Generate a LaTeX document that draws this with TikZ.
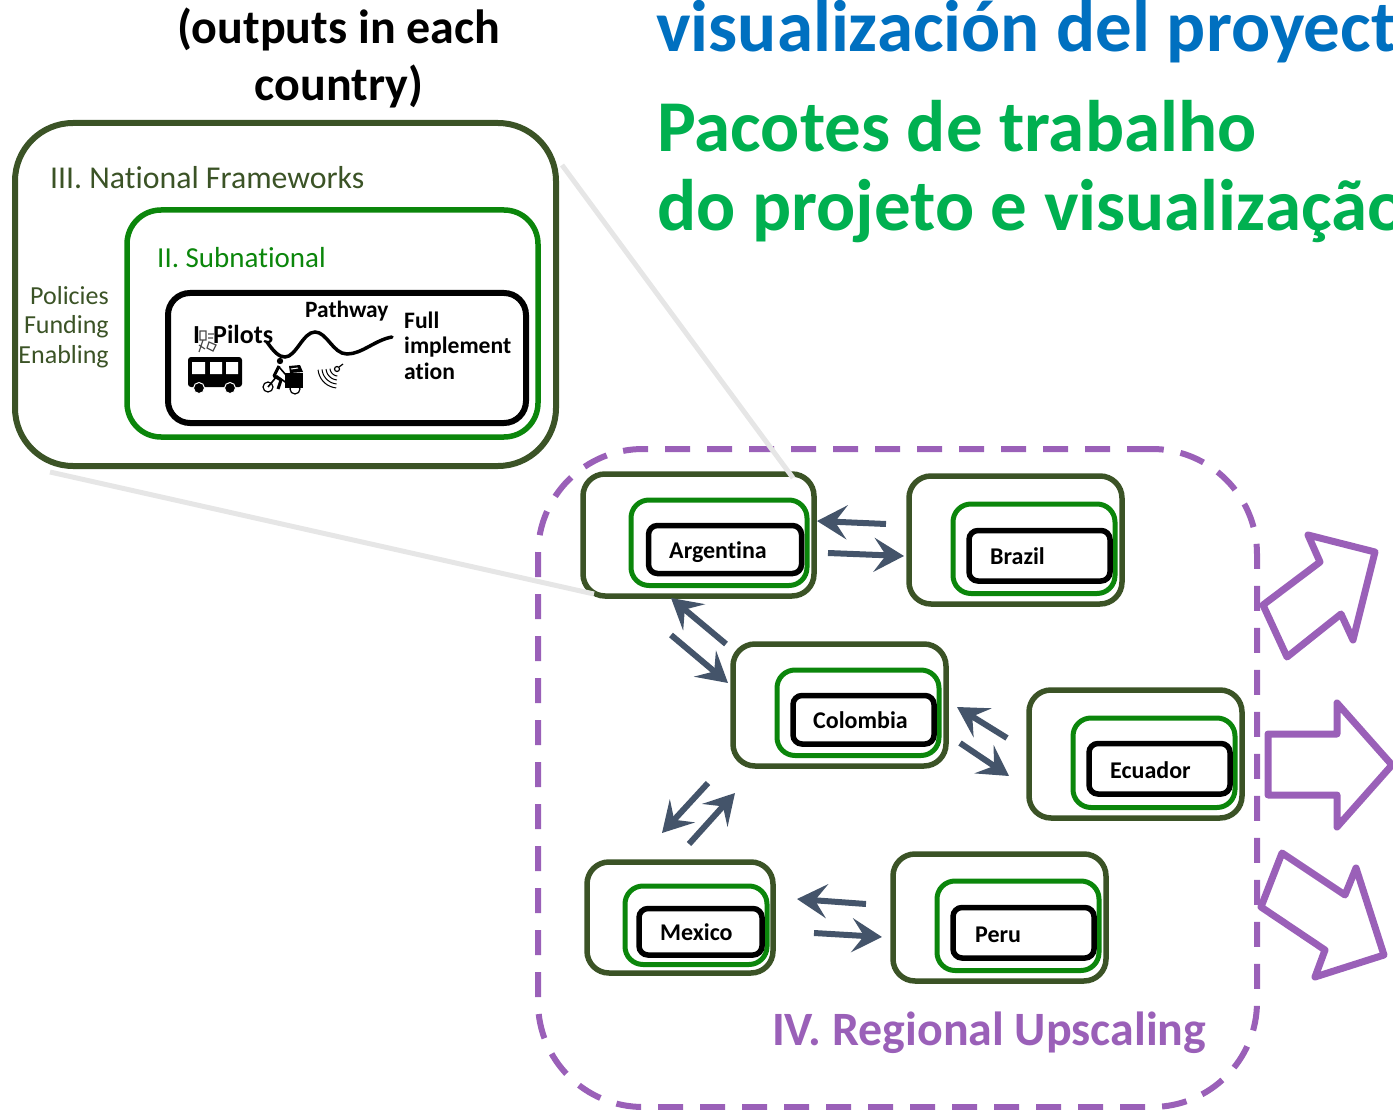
\documentclass[tikz,border=0pt]{standalone}
\usepackage{fontspec}
\setmainfont{Carlito}[Ligatures=NoCommon]
\usetikzlibrary{arrows.meta}
\definecolor{dkgreen}{HTML}{3B5326}
\definecolor{midgreen}{HTML}{0B860B}
\definecolor{purp}{HTML}{9A60B8}
\definecolor{slate}{HTML}{44546A}
\definecolor{ltgray}{HTML}{E6E6E6}
\definecolor{tblue}{HTML}{0070C0}
\definecolor{tgreen}{HTML}{00B050}
\newcommand{\fs}[1]{\fontsize{#1}{#1}\selectfont}
\newcommand{\bx}[6]{\node[#2,minimum width={(#5-#3)*1pt},minimum height={(#6-#4)*1pt}] (#1) at ({(#3+#5)/2},{(#4+#6)/2}) {};}
\tikzset{
 x=1pt,y=-1pt,
 rb/.style={draw,rectangle,inner sep=0pt,fill=none},
 outerb/.style={rb,draw=dkgreen,line width=5.5pt,rounded corners=22pt},
 greenb/.style={rb,draw=midgreen,line width=5pt,rounded corners=18pt},
 blackb/.style={rb,draw=black,line width=5.5pt,rounded corners=9pt},
 country/.style={anchor=base west,inner sep=0pt,font=\fs{24}\bfseries},
 lbl/.style={anchor=base west,inner sep=0pt},
 flow/.style={draw=slate,line width=6pt,-{Stealth[length=30pt,width=34pt,inset=12pt]}},
 bigarrow/.style={draw=purp,line width=7pt,line join=round,fill=none},
 glink/.style={draw=ltgray,line width=5pt},
}
\begin{document}
\begin{tikzpicture}
\clip (0,0) rectangle (1393,1110);
% titles
\node[anchor=base,inner sep=0pt,font=\fs{48}\bfseries] (t1) at (339,44) {(outputs in each};
\node[anchor=base,inner sep=0pt,font=\fs{48}\bfseries] (t2) at (339,101) {country)};
\node[lbl,text=tblue,font=\fs{73}\bfseries] (t3) at (656,52) {visualización del proyect};
\node[lbl,text=tgreen,font=\fs{73}\bfseries] (t4) at (657,152) {Pacotes de trabalho};
\node[lbl,text=tgreen,font=\fs{73}\bfseries] (t5) at (657,231) {do projeto e visualização};
% zoom panel
\bx{nat}{rb,draw=dkgreen,line width=6pt,rounded corners=58pt}{15}{123}{556}{466}
\bx{sub}{rb,draw=midgreen,line width=5.5pt,rounded corners=34pt}{127}{210}{538}{437}
\bx{loc}{rb,draw=black,line width=6pt,rounded corners=22pt}{168}{293}{526}{423}
\node[lbl,text=dkgreen,font=\fs{31.8}] (l3) at (50,189) {III. National Frameworks};
\node[lbl,text=midgreen,font=\fs{29}] (l2) at (157,268) {II. Subnational};
\node[anchor=base east,inner sep=0pt,text=dkgreen,font=\fs{26}] (p1) at (109,305) {Policies};
\node[anchor=base east,inner sep=0pt,text=dkgreen,font=\fs{26}] (p2) at (109,334) {Funding};
\node[anchor=base east,inner sep=0pt,text=dkgreen,font=\fs{26}] (p3) at (109,363) {Enabling};
\node[lbl,font=\fs{23.4}] (pw) at (305,317) {\textbf{Pathway}};
\node[lbl,font=\fs{23.6}] (f1) at (404,328) {\textbf{Full}};
\node[lbl,font=\fs{23.6}] (f2) at (404,353) {\textbf{implement}};
\node[lbl,font=\fs{23.6}] (f3) at (404,379) {\textbf{ation}};
\node[lbl,font=\fs{26}] (i1) at (193,343) {\textbf{I}};
\node[lbl,font=\fs{26}] (i2) at (213,343) {\textbf{Pilots}};
% small handheld icon
\draw[black!70,line width=1.2pt] (200,331) -- (206,331) -- (206,340) -- (200,340) -- cycle
  (203,340) -- (199,352) (199,345) -- (205,349) (208,334) -- (214,334) (208,338) -- (213,338) (209,342) -- (216,345) -- (213,351) -- (207,348) -- cycle;
% pathway curve
\draw[line width=3.5pt,line cap=round] (267,342) .. controls (274,352) and (279,357) .. (285,357)
  .. controls (296,357) and (303,332) .. (315,332)
  .. controls (327,332) and (333,354) .. (347,354)
  .. controls (362,354) and (375,340) .. (392,337);
% bus
\fill[rounded corners=3pt] (188,357) rectangle (242,387);
\fill[white] (192,362) rectangle (205,374) (210,362) rectangle (222,374) (226,362) rectangle (238,374);
\filldraw[draw=white,line width=1pt] (199,388) circle (5.5) (230,388) circle (5.5);
% cyclist
\draw[line width=1.2pt] (268,387) circle (5) (295,389) circle (5);
\fill (280,361) circle (3.2);
\draw[line width=3pt,line join=round] (279,366) -- (274,376) -- (281,380) -- (278,389);
\draw[line width=1.6pt] (279,367) -- (286,375) (268,387) -- (277,376) -- (288,384);
\fill (285,373) rectangle (303,388);
\fill (289,366) -- (300,365) -- (303,372) -- (290,373) -- cycle;
\draw[white,line width=1pt] (291,369) -- (298,368);
% signal
\draw[line width=1.2pt] (337,369) circle (2.5) (339,367) -- (343,364);
\foreach \r in {8,12,16,20}{\draw[line width=1pt] plot[domain=185:265,samples=10,smooth] ({338+\r*cos(\x)},{368-\r*sin(\x)});}
% regional frame
\bx{reg}{rb,draw=purp,line width=6pt,rounded corners=105pt,dash pattern=on 25pt off 17pt}{538}{449}{1257}{1107}
\node[lbl,text=purp,font=\fs{47.9}\bfseries] (l4) at (772,1045) {IV. Regional Upscaling};
% countries
\bx{ao}{outerb}{583}{474}{814}{596}\bx{ag}{greenb}{631}{500}{807}{585.5}\bx{ab}{blackb}{648.5}{525.5}{801.5}{573.5}
\bx{bo}{outerb}{909}{476}{1122}{604}\bx{bg}{greenb}{953}{504}{1115}{593.5}\bx{bb}{blackb}{969}{530.5}{1110}{581}
\bx{co}{outerb}{733}{644}{946}{766}\bx{cg}{greenb}{777}{670}{939}{755.5}\bx{cb}{blackb}{793}{695.5}{934}{744}
\bx{eo}{outerb}{1029}{690}{1242}{818}\bx{eg}{greenb}{1073}{718}{1235}{807.5}\bx{eb}{blackb}{1089}{743.5}{1230}{794}
\bx{mo}{outerb}{587}{862}{773}{973}\bx{mg}{greenb}{625}{886}{767}{964.5}\bx{mb}{blackb}{639}{908.5}{762}{955}
\bx{po}{outerb}{893}{854}{1106}{981}\bx{pg}{greenb}{937}{881}{1099}{970.5}\bx{pb}{blackb}{953}{907.5}{1094}{958}
\node[country] (n1) at (669,558) {Argentina};
\node[country] (n2) at (990,564) {Brazil};
\node[country] (n3) at (813,728) {Colombia};
\node[country] (n4) at (1110,778) {Ecuador};
\node[country] (n5) at (660,940) {Mexico};
\node[country] (n6) at (975,942) {Peru};
% zoom guide lines
\coordinate (g1a) at (562,165); \coordinate (g1b) at (793,478);
\coordinate (g2a) at (50,472);  \coordinate (g2b) at (594,594);
\draw[glink] (g1a) -- (g1b);
\draw[glink] (g2a) -- (g2b);
% exchange arrows
\foreach \n/\xa/\ya/\xb/\yb in {a/886/524/817/521,b/828/553/904/556,c/726/644/671/598,d/671/635/728/683,e/1007/738/957/707,f/960/743/1009/776,g/708/783/662/833,h/689/844/735/793,i/866/904/797/899,j/814/933/882/937}{
 \coordinate (s\n) at (\xa,\ya); \coordinate (e\n) at (\xb,\yb);
 \draw[flow] (s\n) -- (e\n);
}
% upscaling arrows
\draw[bigarrow] (1263,605) -- (1320,562) -- (1308,535) -- (1375,552) -- (1353,640) -- (1341,614) -- (1287,657) -- cycle;
\draw[bigarrow] (1268,734) -- (1337,734) -- (1337,703) -- (1392,765) -- (1337,827) -- (1337,795) -- (1268,795) -- cycle;
\draw[bigarrow] (1261,907) -- (1282,853) -- (1345,895) -- (1356,868) -- (1384,955) -- (1315,977) -- (1325,950) -- cycle;
\end{tikzpicture}
\end{document}
